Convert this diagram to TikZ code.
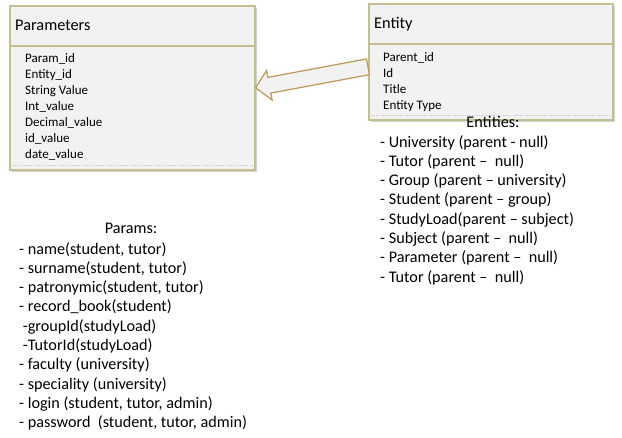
\documentclass[tikz,border=0pt]{standalone}
\usepackage{fontspec}
\setmainfont{Carlito}
\usetikzlibrary{calc,shadows}
\definecolor{bord}{RGB}{196,190,145}
\definecolor{boxfill}{RGB}{242,242,242}
\definecolor{arrbord}{RGB}{190,150,85}
\definecolor{dotc}{RGB}{200,200,200}
\begin{document}
\begin{tikzpicture}[x=1pt,y=-1pt,
  box/.style={draw=bord, line width=1.6pt, fill=boxfill, rectangle, inner sep=0pt,
    drop shadow={shadow xshift=2.5pt, shadow yshift=-2.5pt, opacity=.25, fill=black!70}},
  sepline/.style={draw=bord, line width=1.5pt},
  dotline/.style={draw=dotc, line width=1.2pt, dash pattern=on 1.2pt off 1.2pt},
  titletext/.style={inner sep=0pt, font=\fontsize{16.3}{19}\selectfont},
  rowtext/.style={inner sep=0pt, align=left, font=\fontsize{13}{16}\selectfont},
  listtext/.style={inner sep=0pt, align=left, font=\fontsize{16.2}{19.3}\selectfont},
  blockarrow/.style={fill=boxfill, draw=arrbord, line width=1.2pt, line join=miter}]
\useasboundingbox (0,0) rectangle (622,438);

% Parameters box
\node[box, minimum width=245pt, minimum height=164pt, anchor=north west] (pbox) at (9,5) {};
\draw[sepline] ($(pbox.north west)+(0,41)$) -- ($(pbox.north east)+(0,41)$);
\draw[dotline] ($(pbox.south west)+(3,-5)$) -- ($(pbox.south east)+(-3,-5)$);
\node[titletext, anchor=west] (ptitle) at (15,25) {Parameters};
\node[rowtext, anchor=north west] (prows) at (25,53) {Param\_id\\Entity\_id\\String Value\\Int\_value\\Decimal\_value\\id\_value\\date\_value};

% Entity box
\node[box, minimum width=244pt, minimum height=116pt, anchor=north west] (ebox) at (368,3) {};
\draw[sepline] ($(ebox.north west)+(0,41)$) -- ($(ebox.north east)+(0,41)$);
\draw[dotline] ($(ebox.south west)+(3,-5)$) -- ($(ebox.south east)+(-3,-5)$);
\node[titletext, anchor=west] (etitle) at (374,24) {Entity};
\node[rowtext, anchor=north west] (erows) at (383,52) {Parent\_id\\Id\\Title\\Entity Type};

% Block arrow from Entity to Parameters
\coordinate (tip) at (pbox.east);
\coordinate (tail) at ($(ebox.west)+(0,5)$);
\coordinate (hb) at ($(tip)!14pt!(tail)$);
\coordinate (w1) at ($(hb)!15pt!90:(tail)$);
\coordinate (w2) at ($(hb)!15pt!-90:(tail)$);
\coordinate (s1) at ($(hb)!8pt!90:(tail)$);
\coordinate (s2) at ($(hb)!8pt!-90:(tail)$);
\coordinate (t1) at ($(tail)!8pt!-90:(hb)$);
\coordinate (t2) at ($(tail)!8pt!90:(hb)$);
\draw[blockarrow] (tip) -- (w1) -- (s1) -- (t1) -- (t2) -- (s2) -- (w2) -- cycle;

% Entities list
\node[listtext] (enttitle) at (493,122) {Entities:};
\node[listtext, anchor=north west] (entlist) at (380,135) {- University (parent - null)\\
- Tutor (parent –\ \ null)\\
- Group (parent – university)\\
- Student (parent – group)\\
- StudyLoad(parent – subject)\\
- Subject (parent –\ \ null)\\
- Parameter (parent –\ \ null)\\
- Tutor (parent –\ \ null)};

% Params list
\node[listtext] (partitle) at (131,228) {Params:};
\node[listtext, anchor=north west] (parlist) at (19,242) {- name(student, tutor)\\
- surname(student, tutor)\\
- patronymic(student, tutor)\\
- record\_book(student)\\
\ -groupId(studyLoad)\\
\ -TutorId(studyLoad)\\
- faculty (university)\\
- speciality (university)\\
- login (student, tutor, admin)\\
- password\ \ (student, tutor, admin)};
\end{tikzpicture}
\end{document}
